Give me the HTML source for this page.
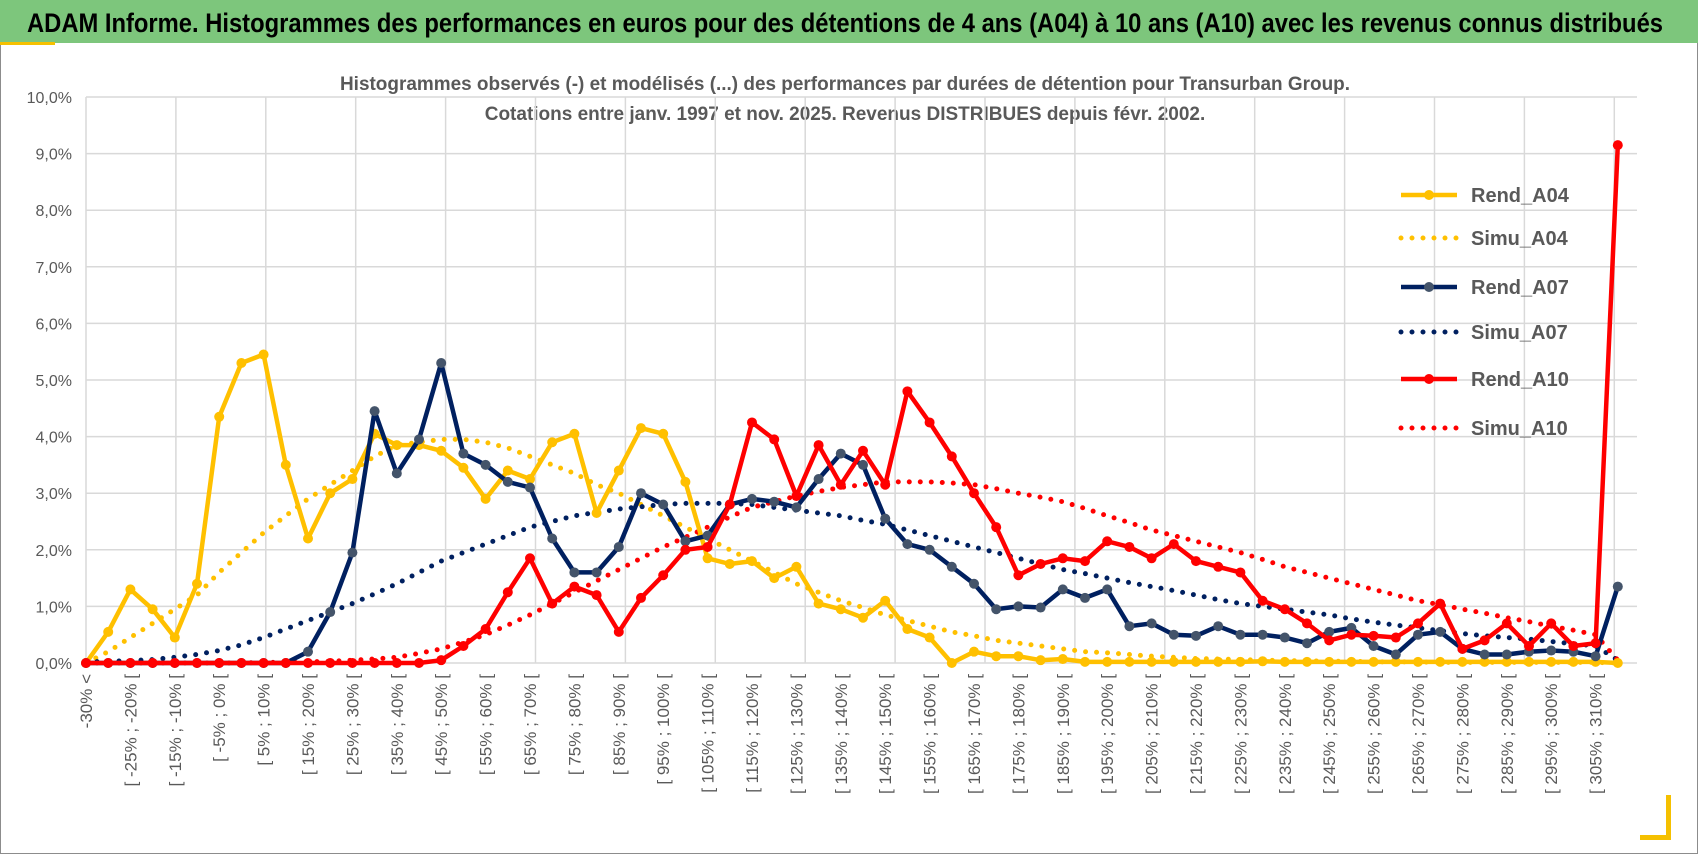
<!DOCTYPE html>
<html><head><meta charset="utf-8"><style>
body{margin:0;width:1698px;height:854px;overflow:hidden;background:#fff;font-family:"Liberation Sans",sans-serif;}
#frame{position:absolute;left:0;top:0;width:1696px;height:852px;border:1px solid #8c8c8c;}
#titlebar{position:absolute;left:0;top:0;width:1698px;height:43px;background:#7dc67c;}
svg{position:absolute;left:0;top:0;}
</style></head><body>
<div id="frame"></div>
<div id="titlebar"></div>
<svg id="chart" width="1698" height="854">
<text x="27" y="32" font-size="27" font-weight="bold" fill="#000" textLength="1636" lengthAdjust="spacingAndGlyphs">ADAM Informe. Histogrammes des performances en euros pour des détentions de 4 ans (A04) à 10 ans (A10) avec les revenus connus distribués</text>
<rect x="0" y="42" width="55" height="3" fill="#f5c000"/>
<rect x="1666" y="795" width="5" height="45" fill="#f5c000"/>
<rect x="1640" y="835" width="31" height="5" fill="#f5c000"/>
<text x="845" y="90" text-anchor="middle" font-size="19" font-weight="bold" fill="#595959" textLength="1010" lengthAdjust="spacingAndGlyphs">Histogrammes observés (-)  et modélisés (...) des performances par durées de détention pour Transurban Group.</text>
<text x="845" y="120" text-anchor="middle" font-size="19" font-weight="bold" fill="#595959">Cotations entre janv. 1997 et nov. 2025. Revenus DISTRIBUES depuis févr. 2002.</text>
</svg>
<script>
const rendA04=[0,0.55,1.3,0.95,0.45,1.4,4.35,5.3,5.45,3.5,
2.2,3.0,3.25,4.05,3.85,3.85,3.75,3.45,2.9,3.4,
3.25,3.9,4.05,2.65,3.4,4.15,4.05,3.2,1.85,1.75,
1.8,1.5,1.7,1.05,0.95,0.8,1.1,0.6,0.45,0.0,
0.2,0.12,0.12,0.05,0.07,0.02,0.02,0.02,0.02,0.02,
0.02,0.02,0.02,0.03,0.02,0.02,0.02,0.02,0.02,0.02,
0.02,0.02,0.02,0.02,0.02,0.02,0.02,0.02,0.02,0.0];
const simuA04=[0.0,0.2,0.45,0.7,0.95,1.2,1.6,1.95,2.3,2.6,
2.9,3.15,3.4,3.65,3.85,3.9,3.95,3.95,3.9,3.8,
3.65,3.5,3.35,3.15,3.0,2.8,2.6,2.4,2.2,2.0,
1.8,1.6,1.4,1.25,1.1,0.98,0.85,0.75,0.65,0.55,
0.48,0.4,0.35,0.3,0.25,0.2,0.18,0.15,0.12,0.1,
0.08,0.07,0.06,0.05,0.04,0.04,0.03,0.03,0.02,0.02,
0.02,0.01,0.01,0.01,0.01,0.01,0.01,0.01,0.01,0.0];
const rendA07=[0,0,0,0,0,0,0,0,0,0,
0.2,0.9,1.95,4.45,3.35,3.95,5.3,3.7,3.5,3.2,
3.1,2.2,1.6,1.6,2.05,3.0,2.8,2.15,2.25,2.8,
2.9,2.85,2.75,3.25,3.7,3.5,2.55,2.1,2.0,1.7,
1.4,0.95,1.0,0.98,1.3,1.15,1.3,0.65,0.7,0.5,
0.48,0.65,0.5,0.5,0.45,0.35,0.55,0.62,0.3,0.15,
0.5,0.55,0.25,0.15,0.15,0.2,0.22,0.2,0.12,1.35];
const simuA07=[0.02,0.03,0.04,0.06,0.1,0.15,0.22,0.32,0.45,0.6,
0.75,0.9,1.05,1.22,1.4,1.6,1.8,1.95,2.1,2.25,
2.4,2.5,2.6,2.66,2.72,2.76,2.8,2.82,2.82,2.82,
2.8,2.75,2.7,2.65,2.6,2.52,2.45,2.35,2.25,2.15,
2.05,1.95,1.85,1.75,1.65,1.58,1.5,1.42,1.35,1.28,
1.2,1.12,1.05,1.0,0.95,0.9,0.85,0.78,0.72,0.67,
0.62,0.57,0.52,0.48,0.45,0.42,0.38,0.34,0.3,0.05];
const rendA10=[0,0,0,0,0,0,0,0,0,0,
0,0,0,0,0,0,0.05,0.3,0.6,1.25,
1.85,1.05,1.35,1.2,0.55,1.15,1.55,2.0,2.05,2.8,
4.25,3.95,2.95,3.85,3.15,3.75,3.15,4.8,4.25,3.65,
3.0,2.4,1.55,1.75,1.85,1.8,2.15,2.05,1.85,2.1,
1.8,1.7,1.6,1.1,0.95,0.7,0.4,0.5,0.48,0.45,
0.7,1.05,0.25,0.4,0.7,0.3,0.7,0.3,0.35,9.15];
const simuA10=[0,0,0,0,0,0,0,0,0.01,0.01,
0.02,0.03,0.05,0.07,0.1,0.17,0.25,0.37,0.5,0.67,
0.85,1.05,1.25,1.45,1.65,1.85,2.05,2.22,2.4,2.58,
2.75,2.85,2.95,3.03,3.1,3.15,3.2,3.2,3.2,3.18,
3.15,3.08,3.0,2.93,2.85,2.73,2.6,2.48,2.35,2.25,
2.15,2.05,1.95,1.83,1.7,1.6,1.5,1.4,1.3,1.2,
1.1,1.03,0.95,0.88,0.8,0.73,0.65,0.58,0.5,0.05];
const yTicks=[0,1,2,3,4,5,6,7,8,9,10];
const categories=["-30% <"];
for(let n=1;n<=68;n++){categories.push("[ "+(-35+5*n)+"% ; "+(-30+5*n)+"% [");}
categories.push("310% <");

const svg=document.getElementById('chart');
const NS='http://www.w3.org/2000/svg';
const X0=86,STEP=22.2,Y0=663,YS=56.6;
const xPos=i=>X0+i*STEP;
const yPos=v=>Y0-v*YS;
function mk(tag,attrs){const e=document.createElementNS(NS,tag);for(const k in attrs)e.setAttribute(k,attrs[k]);svg.appendChild(e);return e;}

for(let k=0;k<=17;k++){const gx=X0+k*89.9;
 const g=mk('line',{x1:gx,x2:gx,y1:yPos(10),y2:Y0,stroke:'#d9d9d9','stroke-width':1.5});
 
 }
yTicks.forEach(v=>{
 const g=mk('line',{x1:X0,x2:1637,y1:yPos(v),y2:yPos(v),stroke:'#d9d9d9','stroke-width':1.5});
 
 
 const t=mk('text',{x:72,y:yPos(v)+6,'text-anchor':'end','font-size':16,fill:'#595959'});
 t.textContent=v.toFixed(1).replace('.',',')+'%';
 
 
});
categories.forEach((c,i)=>{ if(i%2!==0)return;
 const x=xPos(i)+6, y=674;
 const t=mk('text',{x:x,y:y,transform:`rotate(-90 ${x} ${y})`,'text-anchor':'end','font-size':17,fill:'#595959'});
 t.textContent=c;
 
 
});

function series(data,color,dotted,name,markerColor){
 const pts=data.map((v,i)=>xPos(i).toFixed(1)+','+yPos(v).toFixed(1)).join(' ');
 const attrs={points:pts,fill:'none',stroke:color,'stroke-linejoin':'round'};
 if(dotted){attrs['stroke-width']=5;attrs['stroke-dasharray']='0 11';attrs['stroke-linecap']='round';}
 else attrs['stroke-width']=4.5;
 const pl=mk('polyline',attrs);
 
 
 if(!dotted){data.forEach((v,i)=>{
  const c=mk('circle',{cx:xPos(i),cy:yPos(v),r:5,fill:markerColor});
  
  
 });}
}
series(simuA04,'#ffc000',true,'simu-a04-line');
series(simuA07,'#002060',true,'simu-a07-line');
series(simuA10,'#ff0000',true,'simu-a10-line');
series(rendA04,'#ffc000',false,'rend-a04-line','#ffc000');
series(rendA07,'#002060',false,'rend-a07-line','#44546a');
series(rendA10,'#ff0000',false,'rend-a10-line','#ff0000');

const legNames=['Rend_A04','Simu_A04','Rend_A07','Simu_A07','Rend_A10','Simu_A10'];
const legColors=['#ffc000','#ffc000','#002060','#002060','#ff0000','#ff0000'];
const legY=[195,238,287,332,379,428];
legNames.forEach((n,k)=>{
 const y=legY[k], dotted=n.startsWith('Simu');
 const l=mk('line',{x1:1401,x2:1457,y1:y,y2:y,stroke:legColors[k]});
 if(dotted){l.setAttribute('stroke-width',5);l.setAttribute('stroke-dasharray','0 11');l.setAttribute('stroke-linecap','round');}
 else {l.setAttribute('stroke-width',4.5);
  const c=mk('circle',{cx:1429,cy:y,r:5,fill:k===2?'#44546a':legColors[k]});
  
  }
 
 
 const t=mk('text',{x:1471,y:y+7,'font-size':20,'font-weight':'bold',fill:'#595959'});
 t.textContent=n;
 
 
});
</script>
</body></html>
